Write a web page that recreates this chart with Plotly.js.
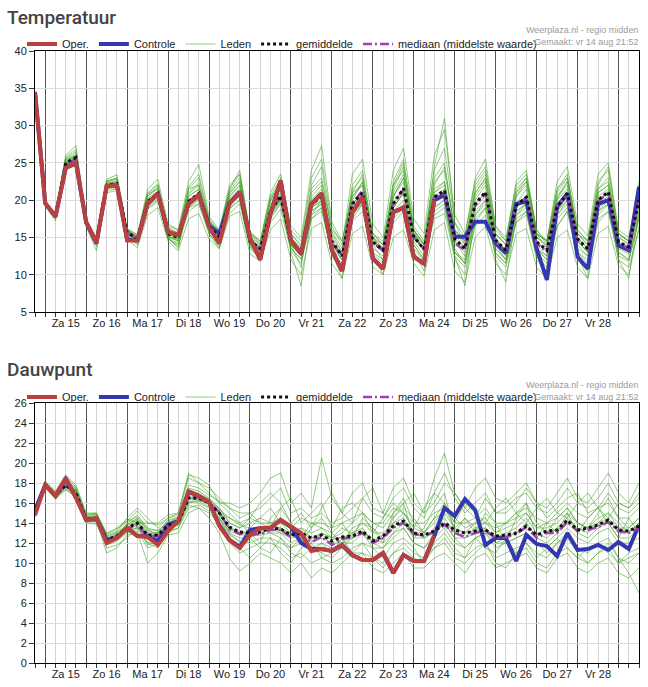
<!DOCTYPE html>
<html>
<head>
<meta charset="utf-8">
<script src="https://cdn.plot.ly/plotly-3.0.1.min.js"></script>
<style>
  html, body { margin: 0; padding: 0; background: #fff; }
  #chart { width: 648px; height: 687px; }
</style>
</head>
<body>
<div id="chart"></div>
<script>
// Pluim temperatuur en dauwpunt (6-uurlijks, vanaf vr 14 aug 18:00)
var startUtc = Date.UTC(2020, 7, 14, 18);
var stepHours = 6;
var nSteps = 60;
var dayLabels = ['Za 15', 'Zo 16', 'Ma 17', 'Di 18', 'Wo 19', 'Do 20', 'Vr 21',
                 'Za 22', 'Zo 23', 'Ma 24', 'Di 25', 'Wo 26', 'Do 27', 'Vr 28'];

// Temperatuur
var tempOper = [34.5, 19.6, 17.8, 24.3, 25.0, 17.1, 14.3, 21.9, 22.0, 14.6, 14.6, 19.5,
  20.9, 15.7, 15.3, 19.5, 20.7, 16.4, 14.2, 19.5, 21.1, 14.9, 12.0, 18.2,
  22.6, 14.6, 12.8, 19.5, 20.9, 13.3, 10.5, 18.4, 20.4, 12.2, 10.8, 18.4,
  19.0, 12.4, 11.5, 20.0];
var tempCtrl = [34.5, 19.6, 17.8, 24.3, 25.0, 17.0, 14.2, 21.9, 22.0, 14.7, 14.6, 19.5,
  20.9, 15.7, 15.3, 19.5, 20.7, 16.6, 15.5, 19.6, 21.1, 14.9, 12.1, 18.2,
  22.6, 14.6, 12.8, 19.5, 20.9, 13.3, 10.5, 18.4, 20.4, 12.2, 10.8, 18.4,
  19.0, 12.4, 11.5, 20.0, 20.7, 15.1, 15.1, 17.1, 17.1, 14.2, 12.9, 19.5,
  19.8, 13.5, 9.3, 19.1, 20.9, 12.4, 10.8, 19.5, 20.0, 13.9, 13.3, 21.8];
var tempMean = [34.5, 19.6, 17.8, 25.0, 25.7, 17.0, 14.5, 22.0, 22.2, 15.7, 14.8, 19.8,
  20.9, 15.5, 15.0, 19.8, 20.9, 16.5, 15.0, 19.7, 21.0, 14.5, 13.5, 18.5,
  20.6, 14.5, 13.0, 19.5, 20.5, 14.5, 12.5, 19.5, 21.0, 14.4, 13.3, 19.5,
  21.6, 15.1, 13.4, 20.4, 21.3, 14.8, 13.5, 19.5, 21.1, 14.6, 13.3, 19.3,
  20.4, 14.4, 13.3, 19.1, 20.9, 14.8, 13.5, 20.0, 21.1, 14.4, 13.7, 20.0];
var tempMedian = [34.5, 19.6, 17.8, 24.8, 25.5, 17.0, 14.4, 21.9, 22.1, 15.6, 14.8, 19.7,
  20.8, 15.6, 15.1, 19.9, 20.8, 16.4, 15.1, 19.8, 20.8, 14.6, 13.4, 18.6,
  20.4, 14.4, 12.9, 19.4, 20.4, 14.3, 12.6, 19.6, 21.3, 14.3, 13.2, 19.7,
  21.4, 15.0, 13.5, 20.3, 21.0, 14.2, 13.3, 19.3, 20.9, 14.4, 13.2, 19.5,
  20.3, 14.2, 13.1, 19.2, 20.7, 14.6, 13.4, 19.9, 20.9, 14.3, 13.5, 19.8];
var tempMembers = [
  [34.5, 19.8, 18.0, 25.5, 26.2, 17.3, 14.8, 22.5, 22.8, 16.0, 15.2, 20.5,
   21.8, 16.2, 15.5, 21.0, 22.3, 17.0, 15.2, 20.8, 22.5, 15.2, 14.0, 19.8,
   22.0, 15.5, 13.8, 21.0, 22.5, 15.8, 13.5, 21.5, 23.0, 15.5, 14.0, 21.0,
   23.5, 16.0, 14.2, 22.5, 24.0, 16.0, 14.5, 21.0, 22.8, 15.5, 14.0, 20.5,
   22.0, 15.0, 13.8, 20.0, 22.5, 15.5, 14.0, 21.5, 23.0, 15.0, 14.2, 21.0],
  [34.5, 19.4, 17.5, 24.5, 25.0, 16.7, 14.0, 21.3, 21.5, 15.2, 14.2, 18.8,
   19.8, 14.8, 14.0, 18.5, 19.5, 15.5, 13.8, 18.2, 19.5, 13.5, 12.2, 17.0,
   18.8, 13.2, 11.5, 17.5, 18.5, 13.0, 11.0, 17.2, 18.5, 12.8, 11.5, 17.0,
   18.5, 13.5, 11.8, 17.5, 18.2, 12.5, 11.0, 16.5, 18.0, 12.8, 11.5, 17.0,
   18.0, 12.5, 11.0, 16.5, 18.5, 13.0, 11.5, 17.5, 18.5, 12.5, 11.8, 17.5],
  [34.5, 19.9, 18.2, 26.0, 27.3, 17.5, 15.0, 22.8, 23.4, 16.2, 15.3, 21.5,
   22.8, 16.8, 16.0, 22.5, 24.8, 17.8, 16.0, 22.0, 23.5, 15.8, 14.5, 21.0,
   23.5, 16.0, 14.5, 23.0, 25.5, 16.5, 14.0, 23.5, 25.5, 16.8, 15.0, 24.0,
   27.0, 17.5, 15.5, 26.0, 29.5, 18.0, 15.5, 22.5, 24.5, 16.5, 15.0, 22.0,
   23.5, 16.0, 14.5, 22.5, 24.5, 16.8, 15.2, 23.5, 25.0, 16.0, 15.0, 22.5],
  [34.5, 19.2, 17.2, 24.2, 24.6, 16.5, 13.2, 21.0, 21.3, 14.8, 13.6, 18.0,
   19.0, 14.5, 13.2, 17.5, 18.2, 14.8, 13.5, 17.8, 18.5, 12.8, 11.8, 16.0,
   17.5, 12.0, 10.0, 16.2, 17.0, 11.5, 9.5, 15.5, 16.5, 11.0, 10.0, 15.0,
   16.0, 11.5, 9.8, 16.0, 17.0, 10.5, 9.0, 15.0, 16.5, 11.5, 10.0, 15.5,
   16.2, 11.0, 9.5, 15.0, 16.0, 11.0, 9.5, 15.5, 16.5, 11.2, 10.0, 16.5],
  [34.5, 19.6, 17.9, 25.2, 25.8, 17.0, 14.6, 22.0, 22.0, 15.8, 14.9, 20.0,
   21.0, 15.2, 14.5, 20.5, 21.5, 16.8, 15.5, 20.5, 22.0, 14.8, 13.2, 18.5,
   20.0, 14.0, 12.5, 19.0, 20.0, 14.2, 12.0, 20.0, 22.5, 15.0, 13.5, 20.5,
   23.0, 15.5, 13.0, 21.0, 22.0, 14.5, 12.5, 19.0, 20.5, 14.0, 12.5, 19.5,
   21.5, 15.0, 14.0, 20.0, 21.5, 14.5, 13.0, 20.5, 21.5, 14.0, 13.0, 19.5],
  [34.5, 19.7, 18.1, 25.8, 26.8, 17.2, 14.3, 22.5, 23.0, 16.0, 15.0, 21.0,
   22.2, 16.0, 15.2, 21.8, 23.5, 17.5, 15.8, 21.5, 24.0, 15.5, 14.0, 20.0,
   22.8, 15.0, 13.5, 22.0, 24.5, 15.5, 13.0, 22.0, 24.0, 15.5, 14.0, 22.5,
   25.5, 16.5, 14.5, 24.0, 27.0, 17.0, 15.0, 23.0, 25.5, 16.5, 14.5, 22.5,
   24.0, 15.5, 14.5, 21.5, 23.0, 16.0, 14.5, 22.0, 24.5, 15.5, 14.5, 21.5],
  [34.5, 19.5, 17.6, 24.8, 25.2, 16.8, 14.8, 21.8, 21.8, 15.5, 14.5, 19.5,
   20.5, 15.0, 14.8, 19.0, 20.0, 16.0, 14.5, 19.0, 20.0, 14.0, 13.0, 17.8,
   19.5, 14.0, 12.8, 18.5, 19.5, 13.5, 12.0, 18.5, 19.5, 13.5, 12.5, 18.5,
   20.0, 14.5, 12.5, 18.5, 19.5, 13.0, 12.0, 18.0, 19.5, 13.5, 12.0, 18.0,
   19.0, 13.5, 12.5, 18.0, 19.5, 13.5, 12.5, 18.5, 20.0, 13.5, 12.8, 18.5],
  [34.5, 19.6, 17.7, 25.0, 25.5, 17.0, 14.4, 22.2, 22.5, 15.7, 14.6, 20.2,
   21.2, 15.0, 13.5, 20.0, 21.0, 16.2, 14.8, 20.2, 21.5, 14.2, 12.5, 19.0,
   21.5, 14.0, 11.0, 20.5, 22.0, 13.5, 11.0, 19.0, 21.0, 14.0, 12.0, 19.0,
   21.0, 14.0, 12.0, 21.0, 22.5, 13.5, 11.5, 20.0, 22.0, 14.0, 12.0, 19.0,
   20.0, 13.5, 12.0, 19.5, 21.0, 14.5, 13.0, 20.0, 21.0, 14.0, 13.0, 20.5],
  [34.5, 19.8, 17.9, 25.3, 26.0, 17.1, 14.7, 22.0, 22.3, 15.9, 15.0, 20.0,
   21.0, 16.0, 15.5, 20.5, 21.5, 17.0, 16.0, 21.0, 22.5, 15.5, 14.5, 20.5,
   23.0, 16.5, 15.0, 24.0, 27.3, 17.0, 14.5, 21.0, 22.0, 15.0, 14.0, 22.0,
   24.0, 16.0, 14.0, 23.0, 25.0, 16.0, 14.0, 21.0, 23.0, 15.5, 14.0, 21.0,
   23.0, 16.0, 14.0, 21.5, 23.5, 15.5, 14.0, 21.5, 22.5, 15.5, 14.5, 21.5],
  [34.5, 19.5, 17.8, 24.7, 25.4, 16.9, 14.5, 21.6, 22.0, 15.4, 14.6, 19.2,
   20.2, 14.8, 14.2, 19.5, 20.5, 16.0, 14.5, 19.5, 21.0, 14.0, 13.5, 18.0,
   20.0, 13.5, 12.0, 17.5, 19.0, 12.5, 10.5, 17.5, 19.5, 12.0, 11.0, 17.5,
   19.0, 13.0, 11.5, 19.0, 20.0, 12.0, 10.0, 17.0, 19.0, 12.5, 11.0, 17.0,
   18.5, 12.0, 10.5, 16.5, 18.5, 12.0, 10.5, 17.0, 18.5, 12.0, 11.0, 16.0],
  [34.5, 19.7, 17.8, 25.1, 25.9, 17.1, 14.6, 22.3, 22.6, 15.8, 15.1, 20.5,
   21.5, 15.8, 15.3, 20.8, 22.0, 16.5, 15.0, 20.5, 22.0, 15.0, 13.5, 19.0,
   21.0, 15.0, 13.5, 20.0, 21.5, 15.0, 13.0, 21.0, 23.5, 15.0, 13.5, 21.5,
   24.5, 15.5, 13.5, 24.5, 31.0, 17.0, 14.0, 20.5, 22.5, 15.0, 13.0, 20.5,
   22.5, 15.5, 13.5, 20.5, 22.0, 15.0, 13.5, 21.0, 22.0, 15.0, 14.0, 20.5],
  [34.5, 19.6, 17.7, 24.9, 25.6, 16.9, 14.4, 21.9, 22.1, 15.6, 14.7, 19.6,
   20.6, 15.4, 14.8, 19.2, 20.2, 16.5, 15.2, 19.5, 20.5, 14.5, 13.8, 18.2,
   20.0, 14.2, 13.0, 19.0, 19.8, 14.0, 12.5, 19.5, 20.5, 14.5, 13.0, 19.0,
   21.0, 15.0, 13.5, 20.0, 20.5, 14.5, 13.0, 19.5, 21.0, 14.0, 13.0, 18.5,
   19.5, 14.0, 12.5, 18.5, 20.5, 14.5, 13.0, 19.5, 20.5, 14.0, 13.0, 19.0],
  [34.5, 19.7, 18.0, 25.4, 26.0, 17.2, 14.9, 22.4, 22.4, 16.1, 15.4, 20.8,
   21.5, 16.5, 16.0, 21.5, 22.0, 17.2, 15.8, 21.2, 23.0, 15.8, 14.2, 20.5,
   21.5, 15.5, 14.0, 21.5, 23.0, 16.0, 14.5, 20.5, 22.0, 15.5, 14.5, 20.5,
   22.5, 16.0, 14.0, 21.5, 22.5, 15.5, 13.5, 21.5, 23.5, 15.5, 14.0, 21.0,
   22.5, 15.5, 14.5, 20.5, 22.5, 15.5, 14.5, 21.0, 22.0, 15.5, 14.5, 20.5],
  [34.5, 19.5, 17.6, 24.6, 25.3, 16.8, 14.3, 21.5, 21.7, 15.3, 14.4, 19.0,
   20.0, 15.0, 14.5, 19.0, 19.5, 15.8, 14.0, 18.8, 20.0, 13.8, 12.8, 17.5,
   19.5, 13.5, 12.2, 18.0, 19.0, 13.0, 11.5, 18.0, 19.5, 13.0, 12.0, 18.0,
   19.5, 14.0, 12.0, 18.0, 19.0, 13.0, 11.5, 17.5, 19.0, 13.0, 11.5, 17.5,
   18.5, 13.0, 11.5, 17.5, 19.0, 13.0, 12.0, 18.0, 19.5, 13.0, 12.0, 18.0],
  [34.5, 19.6, 17.8, 25.0, 25.7, 17.0, 14.5, 22.0, 22.3, 15.7, 14.8, 19.9,
   21.0, 15.6, 15.0, 19.8, 21.0, 16.6, 15.0, 19.8, 21.2, 14.6, 13.6, 18.6,
   20.8, 14.6, 13.2, 19.6, 20.6, 14.5, 12.6, 19.5, 21.0, 14.4, 13.3, 19.6,
   21.5, 15.0, 13.4, 20.5, 21.5, 14.8, 13.6, 19.5, 21.0, 14.6, 13.4, 19.4,
   20.5, 14.4, 13.3, 19.2, 21.0, 14.8, 13.6, 20.0, 21.2, 14.4, 13.8, 20.0],
  [34.5, 19.8, 18.1, 25.6, 26.5, 17.3, 14.6, 22.6, 22.9, 16.0, 15.0, 20.8,
   22.0, 16.3, 15.6, 21.5, 23.0, 17.3, 15.5, 21.5, 23.5, 15.0, 13.8, 20.0,
   22.5, 15.0, 12.5, 19.0, 20.5, 14.0, 12.0, 20.5, 22.5, 15.0, 13.0, 22.0,
   25.0, 16.0, 13.0, 19.0, 20.0, 13.0, 11.5, 18.0, 20.0, 13.5, 12.0, 18.5,
   19.5, 13.5, 12.0, 18.0, 20.0, 14.0, 12.5, 18.5, 19.5, 13.0, 12.0, 17.5],
  [34.5, 19.5, 17.7, 24.8, 25.4, 16.9, 14.4, 21.7, 21.9, 15.5, 14.6, 19.4,
   20.4, 15.2, 14.6, 19.4, 20.5, 16.2, 14.8, 19.3, 20.5, 14.2, 13.0, 18.0,
   19.8, 14.0, 12.5, 18.5, 19.5, 14.0, 12.5, 19.5, 21.0, 14.5, 13.5, 20.5,
   23.0, 15.5, 14.0, 22.0, 24.5, 16.0, 14.5, 22.0, 24.0, 16.0, 14.5, 21.5,
   23.0, 15.5, 14.5, 21.0, 23.0, 16.0, 14.5, 22.5, 24.0, 15.5, 14.5, 22.0],
  [34.5, 19.6, 17.6, 24.9, 25.6, 16.8, 13.8, 21.8, 22.0, 15.2, 14.0, 19.8,
   20.8, 14.8, 13.8, 19.8, 21.0, 15.5, 13.5, 19.5, 21.0, 13.8, 12.0, 18.5,
   20.5, 13.0, 8.5, 18.0, 20.0, 13.0, 9.5, 18.5, 20.5, 12.5, 10.0, 19.0,
   21.0, 13.0, 10.5, 20.0, 21.0, 12.5, 8.5, 18.5, 20.0, 12.0, 9.0, 18.0,
   19.5, 12.5, 10.0, 18.5, 20.0, 12.5, 9.5, 19.0, 20.0, 12.0, 9.5, 18.5]
];

// Dauwpunt
var dewOper = [14.8, 17.8, 16.7, 18.5, 16.5, 14.3, 14.5, 12.0, 12.5, 13.5, 12.7, 12.6,
  11.8, 13.2, 14.2, 17.2, 16.7, 16.1, 13.7, 12.3, 11.5, 12.8, 13.5, 13.5,
  14.3, 13.7, 13.0, 11.2, 11.4, 11.2, 11.8, 10.8, 10.3, 10.3, 11.0, 9.0,
  10.8, 10.2, 10.2, 12.7];
var dewCtrl = [15.3, 17.8, 16.7, 18.4, 16.6, 14.3, 14.4, 12.3, 12.5, 13.5, 12.7, 12.7,
  12.2, 13.8, 14.2, 17.1, 16.7, 16.1, 13.8, 12.3, 11.6, 13.3, 13.5, 13.5,
  14.3, 13.6, 12.0, 11.4, 11.4, 11.2, 11.8, 10.8, 10.3, 10.3, 11.0, 9.0,
  10.8, 10.2, 10.2, 12.7, 15.5, 14.7, 16.4, 15.3, 11.8, 12.5, 12.5, 10.2,
  12.8, 11.9, 11.7, 10.7, 13.0, 11.3, 11.4, 11.8, 11.3, 12.1, 11.4, 13.8];
var dewMean = [15.0, 17.8, 16.8, 17.8, 17.0, 14.4, 14.5, 12.3, 12.7, 13.5, 14.0, 12.8,
  12.8, 13.8, 14.0, 16.5, 16.5, 16.0, 15.0, 13.6, 13.1, 13.0, 13.1, 13.5,
  13.4, 12.8, 13.0, 12.5, 12.8, 12.2, 12.6, 12.7, 13.2, 12.2, 12.7, 13.7,
  14.2, 13.0, 12.8, 13.2, 14.0, 13.3, 13.0, 13.2, 13.3, 12.7, 12.8, 13.0,
  13.7, 12.8, 13.2, 13.3, 14.3, 13.3, 13.5, 13.8, 14.3, 13.3, 13.2, 13.7];
var dewMedian = [15.0, 17.8, 16.8, 17.7, 16.9, 14.4, 14.5, 12.3, 12.6, 13.4, 13.8, 12.6,
  12.7, 13.7, 14.0, 16.6, 16.5, 16.0, 15.1, 13.4, 12.9, 12.8, 12.9, 13.3,
  13.3, 12.6, 12.8, 12.1, 12.6, 11.8, 12.4, 12.6, 13.0, 12.0, 12.5, 13.5,
  14.0, 12.9, 12.7, 13.1, 13.8, 13.0, 12.6, 13.0, 13.2, 12.5, 12.6, 12.9,
  13.6, 12.5, 13.0, 13.0, 14.1, 13.2, 13.3, 13.6, 14.1, 13.2, 13.0, 13.5];
var dewMembers = [
  [15.0, 17.9, 16.9, 18.2, 17.3, 14.6, 14.8, 12.6, 13.0, 13.8, 14.5, 13.5,
   13.2, 14.0, 14.5, 17.5, 17.2, 16.5, 15.5, 14.0, 13.5, 14.0, 14.5, 15.5,
   14.0, 13.0, 13.5, 12.5, 13.0, 12.5, 13.0, 14.0, 15.0, 14.0, 13.5, 15.0,
   16.5, 14.0, 13.0, 14.5, 16.0, 14.5, 13.5, 14.0, 14.5, 13.0, 14.0, 15.0,
   16.0, 14.0, 13.0, 14.5, 15.5, 14.0, 13.5, 15.0, 16.5, 14.5, 13.5, 14.5],
  [14.6, 17.5, 16.4, 17.3, 16.6, 14.0, 13.9, 11.8, 12.2, 13.0, 13.2, 11.5,
   12.0, 13.2, 13.5, 15.8, 15.5, 15.0, 14.0, 12.0, 11.0, 11.5, 12.0, 12.0,
   11.5, 10.5, 11.0, 10.0, 10.5, 10.0, 10.5, 11.5, 12.0, 10.5, 10.0, 11.0,
   12.0, 11.0, 10.5, 11.5, 12.5, 11.0, 10.5, 11.5, 12.0, 10.5, 11.0, 11.5,
   12.0, 11.0, 10.5, 12.0, 12.5, 11.0, 10.0, 11.0, 12.0, 10.5, 10.0, 11.0],
  [15.3, 18.2, 17.2, 18.8, 17.8, 15.0, 15.0, 13.0, 13.5, 14.2, 15.2, 14.0,
   13.8, 14.5, 14.8, 18.5, 18.0, 17.5, 16.5, 15.5, 15.0, 15.0, 15.5, 16.5,
   17.5, 15.0, 15.5, 14.5, 15.0, 14.0, 14.5, 15.5, 16.5, 15.0, 14.5, 16.5,
   17.5, 15.5, 14.5, 17.0, 19.0, 16.5, 15.0, 16.0, 17.0, 15.0, 15.5, 16.5,
   17.0, 15.5, 15.0, 16.0, 17.5, 16.0, 15.5, 16.5, 18.0, 16.0, 15.5, 17.0],
  [14.8, 17.6, 16.5, 17.5, 16.8, 14.2, 14.2, 11.0, 11.5, 12.8, 13.0, 10.0,
   11.0, 12.8, 13.0, 15.0, 15.5, 14.5, 13.0, 10.5, 9.2, 10.0, 11.0, 10.5,
   10.0, 9.0, 10.0, 8.5, 9.5, 9.0, 10.0, 11.0, 11.0, 9.5, 9.0, 10.0,
   11.0, 9.5, 9.5, 10.5, 11.0, 10.0, 9.0, 10.5, 11.0, 9.5, 10.0, 10.5,
   11.0, 9.5, 9.0, 10.5, 11.0, 9.5, 9.0, 10.0, 10.5, 9.0, 8.5, 9.5],
  [15.1, 17.8, 16.8, 17.9, 17.1, 14.5, 14.6, 12.4, 12.7, 13.5, 14.2, 12.8,
   12.5, 13.8, 14.2, 16.8, 16.8, 16.2, 15.0, 13.5, 13.0, 12.5, 13.0, 13.5,
   13.0, 12.5, 13.0, 12.0, 13.0, 12.5, 12.5, 13.0, 13.5, 12.0, 12.5, 14.0,
   14.5, 13.0, 12.5, 13.5, 14.5, 13.0, 12.5, 13.5, 13.5, 12.5, 13.0, 13.5,
   14.5, 13.0, 12.5, 13.5, 14.5, 13.5, 13.0, 14.0, 14.5, 13.0, 13.0, 14.0],
  [15.5, 18.0, 17.0, 18.3, 17.5, 14.8, 15.0, 12.8, 13.2, 14.5, 15.5, 14.5,
   13.5, 14.5, 15.0, 19.0, 18.0, 17.0, 16.0, 16.0, 15.5, 16.0, 17.0, 18.5,
   19.0, 16.0, 17.0, 15.5, 20.5, 16.5, 15.0, 17.0, 18.0, 15.5, 15.0, 17.5,
   18.5, 16.0, 15.0, 18.5, 21.0, 17.0, 15.5, 17.5, 18.5, 16.5, 16.0, 17.0,
   18.0, 16.0, 15.5, 17.0, 18.5, 16.5, 16.0, 17.5, 19.0, 17.0, 16.0, 18.0],
  [14.9, 17.7, 16.6, 17.6, 16.9, 14.3, 14.4, 12.0, 12.5, 13.3, 13.8, 12.0,
   12.3, 13.5, 13.8, 16.2, 16.0, 15.5, 14.5, 12.8, 12.2, 12.0, 12.5, 12.5,
   12.0, 11.5, 12.5, 11.0, 12.0, 11.0, 11.5, 12.5, 13.0, 11.5, 11.5, 12.5,
   13.5, 12.0, 11.5, 12.5, 13.5, 12.0, 11.5, 12.5, 13.0, 12.0, 12.0, 12.5,
   13.0, 12.0, 11.5, 12.5, 13.5, 12.5, 12.0, 13.0, 13.5, 12.0, 12.0, 12.5],
  [15.2, 18.0, 17.0, 18.0, 17.2, 14.6, 14.7, 12.3, 12.9, 13.7, 14.3, 13.0,
   12.8, 14.0, 14.3, 16.5, 16.8, 16.3, 15.2, 13.2, 12.8, 13.5, 13.2, 13.8,
   13.5, 13.0, 13.5, 13.0, 13.5, 12.5, 13.5, 13.0, 14.0, 13.0, 13.0, 14.0,
   15.0, 13.5, 13.0, 14.0, 15.5, 13.5, 13.0, 14.0, 14.0, 13.0, 13.5, 14.0,
   15.0, 13.5, 13.5, 14.0, 15.0, 14.0, 13.5, 14.5, 15.0, 13.5, 13.5, 14.5],
  [15.0, 17.8, 16.7, 18.0, 17.0, 14.4, 14.3, 12.2, 12.5, 14.0, 14.8, 13.5,
   12.5, 13.8, 14.0, 17.0, 16.5, 15.8, 15.0, 14.5, 14.0, 13.0, 12.0, 14.5,
   15.5, 14.0, 12.0, 13.5, 14.5, 13.0, 14.0, 12.5, 14.5, 13.5, 12.0, 15.0,
   16.0, 12.5, 13.5, 15.5, 17.0, 13.0, 14.5, 13.0, 15.0, 14.0, 12.0, 14.5,
   16.0, 12.5, 14.0, 13.0, 15.0, 13.0, 14.5, 15.5, 14.0, 12.5, 14.5, 13.0],
  [14.7, 17.7, 16.6, 17.7, 16.9, 14.3, 14.5, 12.5, 12.6, 13.2, 13.5, 12.5,
   12.8, 13.8, 14.0, 16.0, 16.5, 16.0, 15.0, 13.0, 12.5, 12.5, 13.5, 13.0,
   12.5, 11.5, 12.0, 12.5, 12.5, 12.0, 12.0, 12.5, 13.0, 12.5, 12.0, 13.0,
   14.0, 12.5, 12.5, 13.0, 14.0, 12.5, 12.5, 13.0, 13.5, 12.0, 12.5, 13.0,
   14.0, 12.5, 12.0, 13.0, 14.0, 13.0, 12.5, 13.5, 14.0, 12.5, 12.5, 13.5],
  [15.0, 17.9, 16.8, 17.8, 17.1, 14.5, 14.5, 12.4, 12.8, 13.6, 14.0, 13.0,
   13.0, 14.2, 14.5, 16.6, 16.2, 16.0, 15.5, 14.0, 13.5, 14.5, 14.0, 14.0,
   14.0, 13.5, 14.5, 14.0, 14.0, 13.5, 14.0, 14.5, 15.0, 14.0, 14.0, 15.5,
   15.0, 14.0, 14.0, 15.0, 15.5, 14.0, 14.0, 14.5, 15.5, 14.0, 14.0, 15.0,
   15.5, 14.5, 14.0, 15.0, 16.0, 15.0, 14.5, 15.5, 16.0, 14.5, 14.5, 15.5],
  [14.9, 17.8, 16.7, 17.8, 16.9, 14.4, 14.6, 12.3, 12.6, 13.4, 14.0, 12.6,
   12.7, 13.6, 14.0, 16.4, 16.3, 15.9, 14.8, 13.4, 13.0, 12.8, 12.8, 13.0,
   13.0, 12.0, 12.5, 11.5, 12.0, 11.5, 12.0, 12.0, 13.0, 12.0, 11.5, 13.0,
   13.5, 12.0, 11.5, 13.0, 14.0, 12.5, 11.5, 12.5, 13.0, 11.5, 12.0, 12.5,
   13.0, 12.0, 11.0, 12.0, 13.0, 11.5, 11.0, 12.0, 12.5, 10.5, 9.0, 7.0],
  [15.4, 18.1, 16.9, 18.4, 17.4, 14.7, 14.9, 12.7, 13.1, 14.2, 14.6, 13.2,
   13.0, 14.3, 14.6, 17.8, 17.5, 16.8, 16.2, 15.5, 14.5, 15.0, 14.0, 13.5,
   15.5, 16.5, 14.0, 15.0, 16.0, 13.5, 15.5, 16.0, 15.0, 13.0, 14.5, 16.0,
   15.0, 13.5, 15.5, 17.0, 16.0, 14.0, 16.0, 15.0, 14.0, 15.5, 16.5, 15.0,
   14.0, 15.5, 16.5, 15.0, 14.5, 16.0, 17.0, 15.5, 14.5, 16.0, 15.5, 16.5],
  [14.7, 17.6, 16.5, 17.4, 16.7, 14.1, 14.1, 11.5, 11.8, 12.5, 13.5, 12.0,
   11.5, 13.0, 13.5, 15.5, 15.8, 15.2, 14.5, 12.5, 11.5, 10.5, 11.5, 12.5,
   11.0, 10.0, 11.5, 12.0, 10.5, 11.0, 12.5, 11.0, 12.0, 11.5, 10.5, 12.0,
   12.5, 11.5, 10.0, 12.0, 13.0, 11.5, 10.5, 12.5, 11.5, 11.0, 12.5, 11.0,
   12.0, 10.5, 11.5, 12.5, 11.5, 10.5, 11.5, 12.0, 11.0, 10.0, 11.0, 11.5],
  [15.2, 18.0, 17.1, 18.6, 17.6, 14.9, 14.9, 12.9, 13.4, 14.4, 14.0, 14.0,
   14.0, 14.8, 15.0, 18.8, 18.5, 17.8, 16.0, 15.0, 14.0, 14.5, 16.0, 17.0,
   16.0, 14.0, 15.0, 13.5, 15.5, 17.0, 15.0, 14.0, 16.5, 17.5, 15.0, 14.5,
   16.0, 17.0, 15.0, 16.0, 18.0, 17.0, 15.5, 14.5, 16.5, 15.0, 15.0, 16.0,
   17.5, 16.0, 14.5, 15.5, 16.5, 17.0, 15.0, 15.5, 17.0, 15.5, 15.0, 16.0],
  [15.0, 17.8, 16.8, 17.8, 17.0, 14.4, 14.5, 12.3, 12.7, 13.5, 14.0, 12.8,
   12.8, 13.8, 14.0, 16.5, 16.5, 16.0, 15.0, 13.6, 13.1, 13.0, 13.2, 13.5,
   13.5, 12.8, 13.0, 12.5, 12.8, 12.3, 12.6, 12.8, 13.2, 12.2, 12.8, 13.7,
   14.2, 13.0, 12.8, 13.2, 14.0, 13.3, 13.0, 13.2, 13.3, 12.7, 12.8, 13.0,
   13.7, 12.8, 13.2, 13.3, 14.3, 13.3, 13.5, 13.8, 14.3, 13.3, 13.2, 13.7],
  [14.9, 17.7, 16.6, 17.6, 16.8, 14.3, 14.3, 12.1, 12.4, 13.1, 13.6, 11.8,
   12.2, 13.4, 13.8, 16.0, 16.2, 15.6, 14.6, 13.0, 12.0, 12.5, 11.5, 11.0,
   12.5, 11.0, 10.5, 11.5, 11.0, 10.5, 11.5, 10.5, 11.0, 10.5, 9.5, 11.0,
   11.5, 10.5, 10.0, 11.5, 12.0, 10.5, 10.0, 11.0, 12.0, 10.0, 9.5, 11.0,
   11.5, 10.0, 9.5, 11.0, 11.5, 10.5, 10.0, 11.0, 11.5, 10.0, 10.5, 11.0],
  [15.1, 17.9, 16.8, 18.1, 17.2, 14.5, 14.6, 12.5, 12.9, 13.9, 14.4, 13.3,
   13.3, 14.1, 14.3, 17.3, 17.0, 16.4, 15.4, 14.5, 13.8, 13.5, 14.5, 14.0,
   14.5, 13.5, 12.5, 14.0, 13.5, 13.0, 12.0, 13.5, 14.0, 13.5, 12.5, 14.5,
   15.5, 14.5, 13.0, 14.5, 15.0, 13.5, 14.5, 13.5, 14.0, 13.5, 14.0, 14.5,
   15.0, 13.5, 14.0, 14.5, 15.5, 14.0, 13.5, 14.0, 15.0, 14.0, 13.0, 14.0]
];

function fmt(ms) {
  return new Date(ms).toISOString().slice(0, 16).replace('T', ' ');
}

var times = [];
for (var i = 0; i < nSteps; i++) times.push(fmt(startUtc + i * stepHours * 3600000));
var midnights = [], noons = [];
for (var d = 0; d <= dayLabels.length; d++) {
  midnights.push(fmt(Date.UTC(2020, 7, 15 + d)));
  if (d < dayLabels.length) noons.push(fmt(Date.UTC(2020, 7, 15 + d, 12)));
}

var W = 648, H = 687;
var tickFont = { family: 'Liberation Sans, Arial, sans-serif', size: 11, color: '#222' };

function panel(members, mean, median, ctrl, oper, xa, ya, leg) {
  var out = [];
  members.forEach(function(m, k) {
    out.push({
      x: times, y: m, xaxis: xa, yaxis: ya, mode: 'lines', name: 'Leden',
      legend: leg, legendgroup: 'leden' + leg, legendrank: 3, showlegend: k === 0,
      line: { color: 'rgba(62,160,30,0.55)', width: 1 }, hoverinfo: 'skip'
    });
  });
  out.push({ x: times, y: ctrl, xaxis: xa, yaxis: ya, mode: 'lines',
    name: 'Controle', legend: leg, legendrank: 2,
    line: { color: '#3438b0', width: 4 } });
  out.push({ x: times, y: median, xaxis: xa, yaxis: ya, mode: 'lines',
    name: 'mediaan (middelste waarde)', legend: leg, legendrank: 5,
    line: { color: '#a640b8', width: 2.5, dash: '9px,3px,2px,3px' } });
  out.push({ x: times, y: mean, xaxis: xa, yaxis: ya, mode: 'lines',
    name: 'gemiddelde', legend: leg, legendrank: 4,
    line: { color: '#111', width: 3, dash: 'dot' } });
  out.push({ x: times, y: oper, xaxis: xa, yaxis: ya, mode: 'lines',
    name: 'Oper.', legend: leg, legendrank: 1,
    line: { color: '#b9403f', width: 4 } });
  return out;
}

var traces = panel(tempMembers, tempMean, tempMedian, tempCtrl, tempOper, 'x', 'y', 'legend')
  .concat(panel(dewMembers, dewMean, dewMedian, dewCtrl, dewOper, 'x2', 'y2', 'legend2'));
// lege sporen zodat de labelassen getekend worden
traces.push({ x: [], y: [], xaxis: 'x3', yaxis: 'y', showlegend: false, hoverinfo: 'skip' });
traces.push({ x: [], y: [], xaxis: 'x4', yaxis: 'y2', showlegend: false, hoverinfo: 'skip' });

var xDomain = [35 / W, 639 / W];
function gridAxis(anchor) {
  return {
    domain: xDomain, anchor: anchor, type: 'date', range: [times[0], times[nSteps - 1]],
    tickmode: 'array', tickvals: midnights, ticktext: midnights.map(function() { return ''; }),
    showgrid: true, gridcolor: '#555', gridwidth: 1,
    ticks: 'outside', ticklen: 4, tickcolor: '#333',
    showline: true, linecolor: '#000', linewidth: 1, mirror: true, zeroline: false,
    minor: { tickmode: 'linear', tick0: midnights[0], dtick: stepHours * 3600000,
      showgrid: true, gridcolor: '#d4d4d4', ticks: 'outside', ticklen: 4, tickcolor: '#333' },
    fixedrange: true
  };
}
function labelAxis(over, anchor) {
  return {
    overlaying: over, anchor: anchor, type: 'date', range: [times[0], times[nSteps - 1]],
    tickmode: 'array', tickvals: noons, ticktext: dayLabels, showgrid: false,
    ticks: '', showline: false, zeroline: false, tickfont: tickFont,
    ticklabelstandoff: 3, fixedrange: true
  };
}
function yAxis(dom, anchor, range, dtick) {
  return {
    domain: dom, anchor: anchor, range: range, dtick: dtick, tick0: 0,
    showgrid: true, gridcolor: '#dcdcdc', ticks: 'outside', ticklen: 5, tickcolor: '#333',
    showline: true, linecolor: '#000', linewidth: 1, mirror: true, zeroline: false,
    tickfont: tickFont, fixedrange: true
  };
}
function legendAt(py) {
  return {
    orientation: 'h', x: 22 / W, xanchor: 'left', y: 1 - py / H, yanchor: 'middle',
    bgcolor: 'rgba(0,0,0,0)', font: { family: 'Liberation Sans, Arial, sans-serif', size: 11, color: '#222' },
    itemwidth: 30, tracegroupgap: 0
  };
}
var titleFont = { family: 'Roboto, sans-serif', size: 19, color: '#444', weight: 500 };
var srcFont = { family: 'Liberation Sans, Arial, sans-serif', size: 9, color: '#9a9a9a' };
var srcText = 'Weerplaza.nl - regio midden<br>Gemaakt: vr 14 aug 21:52';
function note(text, px, py, font, anchor, align) {
  return { text: text, xref: 'paper', yref: 'paper', x: px / W, y: 1 - py / H,
    xanchor: anchor, yanchor: 'middle', align: align || 'left', showarrow: false, font: font };
}

var layout = {
  width: W, height: H,
  margin: { l: 0, r: 0, t: 0, b: 0 },
  paper_bgcolor: '#fff', plot_bgcolor: '#fff',
  font: { family: 'Liberation Sans, Arial, sans-serif', color: '#222' },
  xaxis: gridAxis('y'),
  xaxis2: gridAxis('y2'),
  xaxis3: labelAxis('x', 'y'),
  xaxis4: labelAxis('x2', 'y2'),
  yaxis: yAxis([1 - 312 / H, 1 - 51 / H], 'x', [5, 40], 5),
  yaxis2: yAxis([1 - 663 / H, 1 - 403 / H], 'x2', [0, 26], 2),
  legend: legendAt(44),
  legend2: legendAt(397),
  showlegend: true,
  annotations: [
    note('Temperatuur', 5, 17, titleFont, 'left'),
    note('Dauwpunt', 5, 369, titleFont, 'left'),
    note(srcText, 640, 36, srcFont, 'right', 'right'),
    note(srcText, 640, 391, srcFont, 'right', 'right')
  ]
};

Plotly.newPlot('chart', traces, layout, { displayModeBar: false, staticPlot: true });
</script>
</body>
</html>
